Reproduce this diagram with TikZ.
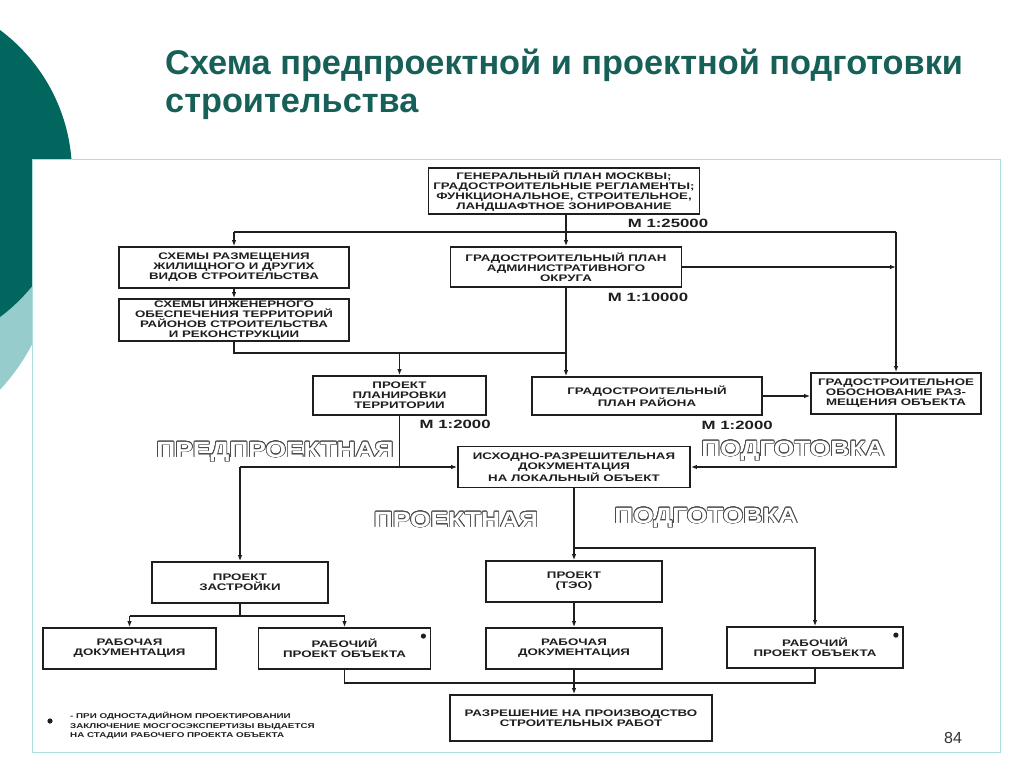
\documentclass[tikz,border=0pt]{standalone}
\usepackage{fontspec}
\usepackage{xcolor}
\usepackage{contour}
\setmainfont{Liberation Sans}
\newfontfamily\titlefont{Liberation Sans}
\newfontfamily\boxfont{Liberation Sans}[FakeStretch=1.4]
\newfontfamily\hollowfont{Liberation Sans}[FakeStretch=1.2]
\usetikzlibrary{arrows.meta}
\tikzset{>={Latex[length=6pt,width=4.5pt]}}
\definecolor{darkteal}{RGB}{0,102,94}
\definecolor{lightteal}{RGB}{150,204,204}
\definecolor{paneledge}{RGB}{175,220,220}
\definecolor{titleteal}{RGB}{22,96,88}
\definecolor{scan}{RGB}{30,30,30}
\contourlength{0.75pt}
\def\lw{1.4pt}

\tikzset{
  blok/.style={draw=scan, line width=1.8pt, fill=white, text=scan, align=center, inner sep=1pt,
    font=\boxfont\bfseries\fontsize{9.5}{10}\selectfont},
  masht/.style={text=scan, inner sep=0pt, font=\boxfont\bfseries\fontsize{12}{12}\selectfont},
  hollow/.style={text=white, inner sep=0pt, font=\hollowfont\bfseries\fontsize{22}{22}\selectfont},
  link/.style={draw=scan, line width=\lw},
}

\begin{document}
\begin{tikzpicture}[x=1pt, y=-1pt]

    \useasboundingbox (0,0) rectangle (1024,767);

    % Slide decoration
    \begin{scope}
        \clip (0,0) rectangle (1024,767);
        \fill[lightteal] (-150,250) circle (205pt);
        \fill[darkteal] (-107,173.5) circle (179pt);
    \end{scope}
    \filldraw[draw=paneledge, line width=1pt, fill=white] (32,160) rectangle (1000,752);

    % Title
    \node[anchor=base west, inner sep=0pt, text=titleteal, font=\titlefont\bfseries\fontsize{34.3}{38}\selectfont] (title1) at (165,75) {Схема предпроектной и проектной подготовки};
    \node[anchor=base west, inner sep=0pt, text=titleteal, font=\titlefont\bfseries\fontsize{34.3}{38}\selectfont] (title2) at (165,113) {строительства};

    % Boxes
    \node[blok, minimum width=271pt, minimum height=46pt] (gen) at (564,191) {ГЕНЕРАЛЬНЫЙ ПЛАН МОСКВЫ;\\ГРАДОСТРОИТЕЛЬНЫЕ РЕГЛАМЕНТЫ;\\ФУНКЦИОНАЛЬНОЕ, СТРОИТЕЛЬНОЕ,\\ЛАНДШАФТНОЕ ЗОНИРОВАНИЕ};
    \node[blok, minimum width=230pt, minimum height=41pt] (razm) at (234,267.5) {СХЕМЫ РАЗМЕЩЕНИЯ\\ЖИЛИЩНОГО И ДРУГИХ\\ВИДОВ СТРОИТЕЛЬСТВА};
    \node[blok, minimum width=230pt, minimum height=42pt] (inzh) at (234,320) {СХЕМЫ ИНЖЕНЕРНОГО\\ОБЕСПЕЧЕНИЯ ТЕРРИТОРИЙ\\РАЙОНОВ СТРОИТЕЛЬСТВА\\И РЕКОНСТРУКЦИИ};
    \node[blok, minimum width=231pt, minimum height=40pt] (gpao) at (566,267) {ГРАДОСТРОИТЕЛЬНЫЙ ПЛАН\\АДМИНИСТРАТИВНОГО\\ОКРУГА};
    \node[blok, minimum width=173pt, minimum height=39pt] (ppt) at (399.5,395.5) {ПРОЕКТ\\ПЛАНИРОВКИ\\ТЕРРИТОРИИ};
    \node[blok, minimum width=230pt, minimum height=38pt] (gpr) at (647,396) {ГРАДОСТРОИТЕЛЬНЫЙ\\ПЛАН РАЙОНА};
    \node[blok, minimum width=170pt, minimum height=41pt] (gobr) at (896,393.5) {ГРАДОСТРОИТЕЛЬНОЕ\\ОБОСНОВАНИЕ РАЗ-\\МЕЩЕНИЯ ОБЪЕКТА};
    \node[blok, minimum width=232pt, minimum height=41pt] (ird) at (574,467) {ИСХОДНО-РАЗРЕШИТЕЛЬНАЯ\\ДОКУМЕНТАЦИЯ\\НА ЛОКАЛЬНЫЙ ОБЪЕКТ};
    \node[blok, minimum width=176pt, minimum height=41pt] (zastr) at (240,582.5) {ПРОЕКТ\\ЗАСТРОЙКИ};
    \node[blok, minimum width=176pt, minimum height=41pt] (teo) at (574,581.5) {ПРОЕКТ\\(ТЭО)};
    \node[blok, minimum width=173pt, minimum height=41pt] (rabdoc1) at (129.5,648.5) {РАБОЧАЯ\\ДОКУМЕНТАЦИЯ};
    \node[blok, minimum width=172pt, minimum height=41pt] (rabpr1) at (344.5,648.5) {РАБОЧИЙ\\ПРОЕКТ ОБЪЕКТА};
    \node[blok, minimum width=176pt, minimum height=41pt] (rabdoc2) at (574,648.5) {РАБОЧАЯ\\ДОКУМЕНТАЦИЯ};
    \node[blok, minimum width=176pt, minimum height=41pt] (rabpr2) at (815,647.5) {РАБОЧИЙ\\ПРОЕКТ ОБЪЕКТА};
    \node[blok, minimum width=262pt, minimum height=46pt] (razr) at (581,718) {РАЗРЕШЕНИЕ НА ПРОИЗВОДСТВО\\СТРОИТЕЛЬНЫХ РАБОТ};

    \foreach \n in {rabpr1, rabpr2}{
        \fill[scan] ([xshift=-8pt,yshift=-9pt]\n.north east) circle (2.6pt);
    }

    % Scales
    \node[masht, anchor=north east] (sc1) at ([xshift=8pt,yshift=-4pt]gen.south east) {М 1:25000};
    \node[masht, anchor=north east] (sc2) at ([xshift=6pt,yshift=-5pt]gpao.south east) {М 1:10000};
    \node[masht, anchor=north east] (sc3) at ([xshift=4pt,yshift=-4pt]ppt.south east) {М 1:2000};
    \node[masht, anchor=north east] (sc4) at ([xshift=10pt,yshift=-5pt]gpr.south east) {М 1:2000};

    % Stage labels
    \node[hollow] (pre1) at (275,452) {\contour{scan!80}{ПРЕДПРОЕКТНАЯ}};
    \node[hollow] (pod1) at (793,451) {\contour{scan!80}{ПОДГОТОВКА}};
    \node[hollow] (pro2) at (456,520) {\contour{scan!80}{ПРОЕКТНАЯ}};
    \node[hollow] (pod2) at (706,518) {\contour{scan!80}{ПОДГОТОВКА}};

    % Upper bus
    \coordinate (bus1) at (0,232);
    \draw[link,->] (gen.south -| gpao.north) -- (gpao.north);
    \draw[link] (razm.north |- bus1) -- (gobr.north |- bus1);
    \draw[link,->] (razm.north |- bus1) -- (razm.north);
    \draw[link,->] (gobr.north |- bus1) -- (gobr.north);
    \draw[link,->] (razm) -- (inzh);
    \draw[link,->] (gpao.east) -- (gobr.north |- gpao.east);

    % Middle bus
    \coordinate (bus2) at (0,353);
    \draw[link] (inzh.south) -- (inzh.south |- bus2) -- (gpao.south |- bus2);
    \draw[link,->] (ppt.north |- bus2) -- (ppt.north);
    \draw[link,->] (gpao.south) -- (gpao.south |- gpr.north);
    \draw[link,->] (gpr.east) -- (gpr.east -| gobr.west);

    % Into the permit papers
    \draw[link] (ppt.south) -- (ppt.south |- ird.west);
    \draw[link,->] (zastr.north |- ird.west) -- (ird.west);
    \draw[link,->] (zastr.north |- ird.west) -- (zastr.north);
    \draw[link,->] (gobr.south) |- (ird.east);

    % Project stage
    \coordinate (bus3) at (0,548);
    \coordinate (bus4) at (0,616);
    \draw[link,->] (ird.south) -- (teo.north);
    \draw[link,->] (ird.south |- bus3) -| (rabpr2.north);
    \draw[link] (zastr.south) -- (zastr.south |- bus4);
    \draw[link] (rabdoc1.north |- bus4) -- (rabpr1.north |- bus4);
    \draw[link,->] (rabdoc1.north |- bus4) -- (rabdoc1.north);
    \draw[link,->] (rabpr1.north |- bus4) -- (rabpr1.north);
    \draw[link,->] (teo) -- (rabdoc2);

    % Permit
    \coordinate (bus5) at (0,683);
    \draw[link] (rabpr1.south) |- (rabpr2.south |- bus5) -- (rabpr2.south);
    \draw[link,->] (rabdoc2.south) -- (rabdoc2.south |- razr.north);

    % Footnote
    \fill[scan] (50,721) circle (2.6pt);
    \node[anchor=north west, align=left, inner sep=0pt, text=scan, font=\boxfont\bfseries\fontsize{7}{9.5}\selectfont] (note) at (70,712) {- ПРИ ОДНОСТАДИЙНОМ ПРОЕКТИРОВАНИИ\\ЗАКЛЮЧЕНИЕ МОСГОСЭКСПЕРТИЗЫ ВЫДАЕТСЯ\\НА СТАДИИ РАБОЧЕГО ПРОЕКТА ОБЪЕКТА};

    \node[text=black!80, font=\fontsize{16}{16}\selectfont] (page) at (953,738) {84};

\end{tikzpicture}
\end{document}
